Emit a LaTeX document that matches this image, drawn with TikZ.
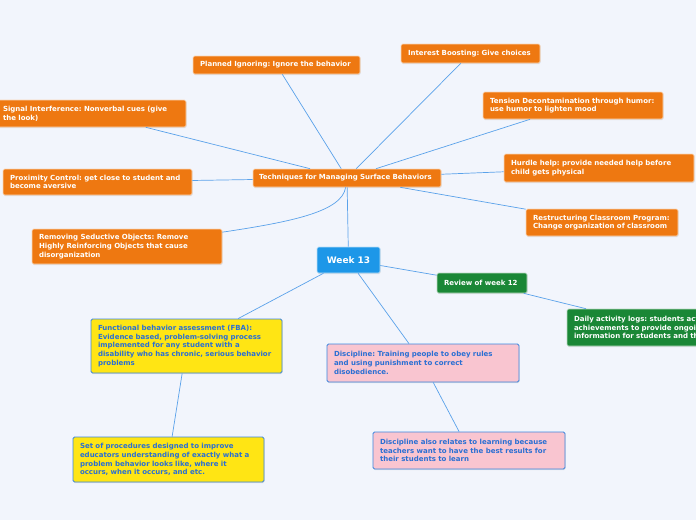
\documentclass[tikz,border=0pt]{standalone}
\usepackage{fontspec}
\setmainfont{DejaVu Sans}
\usetikzlibrary{positioning,shadows}
\definecolor{bgpage}{HTML}{F2F5FC}
\definecolor{orangebox}{HTML}{EE7811}
\definecolor{weekblue}{HTML}{1D97E8}
\definecolor{reviewgreen}{HTML}{1A8736}
\definecolor{yellowbox}{HTML}{FFE514}
\definecolor{pinkbox}{HTML}{F9C5D0}
\definecolor{frameblue}{HTML}{3A85DE}
\definecolor{textblue}{HTML}{2A6FD3}
\definecolor{linkblue}{HTML}{5AA2EA}
\newcommand{\boxfont}{\fontsize{7}{8.7}\selectfont\bfseries}
\frenchspacing
\tikzset{
  topic/.style={rectangle, rounded corners=1.5pt, draw=white!70!orangebox, line width=0.6pt,
    fill=orangebox, text=white, font=\boxfont, align=left, inner xsep=7pt, inner ysep=2pt,
    drop shadow={opacity=0.2, shadow xshift=0.6pt, shadow yshift=-1pt}},
  central/.style={topic, fill=weekblue, draw=white!70!weekblue, align=center,
    font=\fontsize{9}{10}\selectfont\bfseries},
  review/.style={topic, fill=reviewgreen, draw=white!70!reviewgreen},
  yellownote/.style={topic, fill=yellowbox, draw=frameblue, line width=0.8pt, text=textblue},
  pinknote/.style={topic, fill=pinkbox, draw=frameblue, line width=0.8pt, text=textblue},
  link/.style={draw=linkblue, line width=0.7pt},
}

\begin{document}
\begin{tikzpicture}[x=1pt,y=-1pt]
  \fill[bgpage] (0,0) rectangle (696,520);
  \clip (0,0) rectangle (696,520);

  % main branch
  \node[central, text width=49pt, minimum height=26pt] (week) at (348.5,260) {Week 13};
  \node[topic, inner xsep=6pt, text width=176pt, minimum height=18pt] (tech) at (347,178) {Techniques for Managing Surface Behaviors};

  % techniques
  \node[topic, text width=153pt, minimum height=18pt] (plan) at (276.5,65) {Planned Ignoring: Ignore the behavior};
  \node[topic, text width=125pt, minimum height=19pt] (boost) at (470.5,53.5) {Interest Boosting: Give choices};
  \node[topic, text width=176pt, minimum height=27pt] (signal) at (91,113.5) {Signal Interference: Nonverbal cues (give\\the look)};
  \node[topic, text width=166pt, minimum height=27pt] (tension) at (573,105.5) {Tension Decontamination through humor:\\use humor to lighten mood};
  \node[topic, text width=175pt, minimum height=26pt] (prox) at (97.5,182) {Proximity Control: get close to student and\\become aversive};
  \node[topic, text width=176pt, minimum height=28pt] (hurdle) at (599,168) {Hurdle help: provide needed help before\\child gets physical};
  \node[topic, text width=138pt, minimum height=27pt] (restr) at (602,222.5) {Restructuring Classroom Program:\\Change organization of classroom};
  \node[topic, text width=176pt, minimum height=35pt] (remove) at (127,246.5) {Removing Seductive Objects: Remove\\Highly Reinforcing Objects that cause\\disorganization};

  % review
  \node[review, text width=76pt, minimum height=20pt] (rev) at (482,283) {Review of week 12};
  \node[review, text width=176pt, minimum height=37pt] (daily) at (662,327.5) {Daily activity logs: students actively\\achievements to provide ongoing\\information for students and their};

  % notes
  \node[yellownote, text width=177pt, minimum height=54pt] (fba) at (186.5,346) {Functional behavior assessment (FBA):\\Evidence based, problem-solving process\\implemented for any student with a\\disability who has chronic, serious behavior\\problems};
  \node[yellownote, text width=177pt, minimum height=45pt] (proc) at (168.5,459.5) {Set of procedures designed to improve\\educators understanding of exactly what a\\problem behavior looks like, where it\\occurs, when it occurs, and etc.};
  \node[pinknote, text width=178pt, minimum height=38pt] (disc) at (423,363) {Discipline: Training people to obey rules\\and using punishment to correct\\disobedience.};
  \node[pinknote, text width=178pt, minimum height=37pt] (learn) at (469,450.5) {Discipline also relates to learning because\\teachers want to have the best results for\\their students to learn};

  \draw[link] (week) -- (tech);
  \draw[link] (week) -- (rev);
  \draw[link] (week) -- (fba);
  \draw[link] (week) -- (disc);
  \draw[link] (rev) -- (daily);
  \draw[link] (fba) -- (proc);
  \draw[link] (disc) -- (learn);
  \foreach \t in {plan,boost,signal,tension,prox,hurdle,restr}
    \draw[link] (tech) -- (\t);
  \draw[link] (tech) .. controls (342,212) and (290,222) .. (remove);
\end{tikzpicture}
\end{document}
